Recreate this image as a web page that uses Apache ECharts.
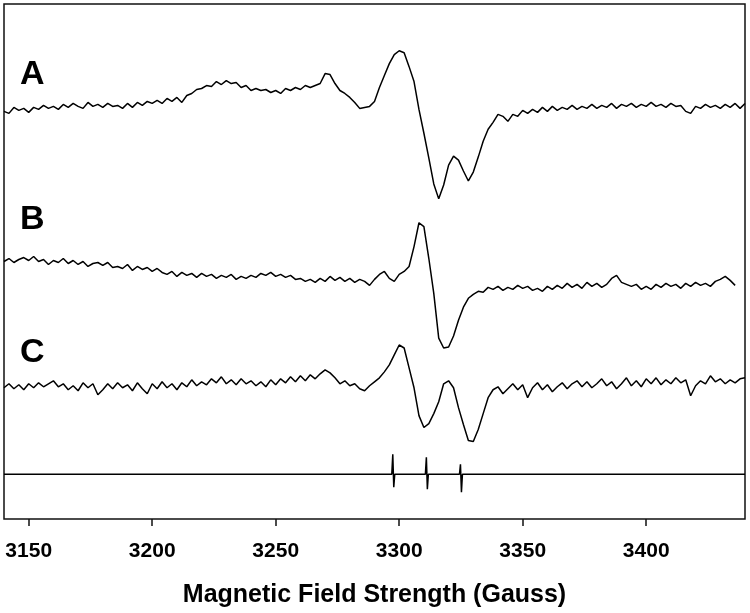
<!doctype html>
<html>
<head>
<meta charset="utf-8">
<title>EPR spectra</title>
<script src="https://cdn.jsdelivr.net/npm/echarts@6/dist/echarts.min.js"></script>
<style>
html,body{margin:0;padding:0;background:#fff;}
</style>
</head>
<body>
<div id="echarts" style="width:750px;height:613px;"></div>
<script type="text/javascript">
// field axis (Gauss), traces sampled every 2 G starting at 3140
var fieldStart = 3140;
var fieldStep = 2;
var tickValues = [3150, 3200, 3250, 3300, 3350, 3400];
var traceNames = ['A', 'B', 'C'];

var traceA = [
	-2,-4,2,-1,1,-3,2,0,4,1,
	3,0,5,2,6,3,1,7,3,5,
	2,6,3,4,1,6,2,7,4,8,
	6,9,6,11,8,12,7,14,16,20,
	21,24,23,28,25,29,26,27,22,24,
	19,21,19,20,17,19,16,21,19,22,
	20,24,22,24,26,36,35,26,19,16,
	12,7,1,2,3,8,22,34,46,55,
	59,57,43,28,0,-24,-49,-75,-90,-76,
	-56,-47,-51,-62,-72,-63,-48,-32,-20,-13,
	-5,-7,-12,-5,-7,-1,-4,0,-3,2,
	-2,3,-1,2,0,4,0,3,1,5,
	1,4,2,6,1,5,3,6,2,5,
	3,7,3,5,2,6,3,4,-2,-4,
	3,1,5,2,4,1,5,2,6,1,
	6
];
var traceB = [
	-3,0,-4,-1,1,-2,2,-3,-1,-6,
	-2,-4,0,-5,-2,-6,-3,-8,-5,-4,
	-7,-4,-9,-8,-10,-6,-12,-8,-11,-9,
	-13,-10,-14,-16,-13,-18,-14,-17,-15,-19,
	-15,-18,-16,-20,-17,-19,-16,-21,-18,-20,
	-17,-19,-15,-17,-14,-18,-16,-19,-17,-21,
	-20,-23,-21,-24,-20,-23,-18,-22,-19,-23,
	-20,-24,-21,-23,-27,-21,-16,-13,-20,-23,
	-16,-13,-8,12,36,32,0,-35,-80,-90,
	-89,-78,-62,-49,-40,-36,-33,-34,-29,-31,
	-28,-32,-29,-31,-27,-30,-28,-32,-30,-33,
	-28,-31,-27,-30,-25,-29,-26,-30,-24,-28,
	-25,-29,-26,-20,-17,-24,-26,-28,-26,-31,
	-28,-31,-26,-29,-25,-28,-26,-30,-25,-28,
	-24,-27,-25,-28,-23,-21,-18,-22,-27
];
var traceC = [
	-2,2,-3,1,-4,2,-2,3,-1,2,
	5,-1,2,-4,0,-5,3,-2,2,-9,
	-4,2,-3,3,-2,1,-5,3,-3,-8,
	2,-3,4,-2,2,-4,3,-1,6,0,
	4,1,7,3,9,2,6,1,7,2,
	5,0,4,-1,6,1,7,3,9,4,
	10,5,11,7,12,16,13,8,2,5,
	0,2,-3,-5,0,4,8,14,21,31,
	41,38,18,-2,-30,-42,-38,-28,-16,2,
	5,-2,-22,-39,-55,-56,-44,-28,-12,-4,
	-1,-8,-3,2,-4,1,-12,-2,3,-4,
	1,-6,-1,3,-3,2,5,-1,4,-2,
	2,7,0,4,-3,2,8,0,5,-1,
	7,2,8,1,6,2,8,3,6,-10,
	0,5,2,10,4,7,2,6,3,7,
	8
];
// field marker standard (three sharp lines)
var refField = [3140, 3297.0, 3297.4, 3297.8, 3298.2, 3310.6, 3311.0, 3311.4, 3311.8, 3324.4, 3324.8, 3325.2, 3325.6, 3440];
var refSignal = [0, 0, 20, -13, 0, 0, 17, -15, 0, 0, 10, -18, 0, 0];

// vertical stacking of the traces
var offsets = [412, 262, 134];
var refOffset = 45;
var boldFont = '"Liberation Sans", Arial, sans-serif';

function toPoints(vals, off) {
	var pts = [];
	for (var i = 0; i < vals.length; i++) {
		pts.push([fieldStart + i * fieldStep, vals[i] + off]);
	}
	return pts;
}

var mychart = echarts.init(document.getElementById('echarts'));
var lineStyle = {color: '#000', width: 1.5};
var series = [traceA, traceB, traceC].map(function(t, i) {
	return {
		name: traceNames[i],
		type: 'line',
		data: toPoints(t, offsets[i]),
		showSymbol: false,
		lineStyle: lineStyle,
		silent: true
	};
});
var refPts = [];
for (var k = 0; k < refField.length; k++) refPts.push([refField[k], refSignal[k] + refOffset]);
series.push({
	name: 'ref',
	type: 'line',
	data: refPts,
	showSymbol: false,
	lineStyle: {color: '#000', width: 1.5},
	silent: true
});

var labelY = [75, 220, 353];
mychart.setOption({
	animation: false,
	grid: {
		left: 4, top: 4, right: 5, bottom: 91,
		show: true,
		borderColor: '#111',
		borderWidth: 1.5
	},
	xAxis: {
		type: 'value',
		min: 3140,
		max: 3440,
		name: 'Magnetic Field Strength (Gauss)',
		nameLocation: 'middle',
		nameGap: 64,
		nameTextStyle: {
			fontFamily: boldFont,
			fontWeight: 'bold',
			fontSize: 25,
			color: '#000'
		},
		axisLine: {show: false},
		axisTick: {
			show: true,
			length: 7,
			customValues: tickValues,
			lineStyle: {color: '#111', width: 1.5}
		},
		axisLabel: {
			customValues: tickValues,
			margin: 22,
			formatter: function(v) { return String(v); },
			fontFamily: boldFont,
			fontWeight: 'bold',
			fontSize: 21,
			color: '#000'
		},
		splitLine: {show: false}
	},
	yAxis: {
		type: 'value',
		min: 0,
		max: 518,
		show: false,
		splitLine: {show: false}
	},
	graphic: traceNames.map(function(n, i) {
		return {
			type: 'text',
			left: 20,
			top: labelY[i] - 17,
			style: {
				text: n,
				font: 'bold 34px ' + boldFont,
				fill: '#000'
			}
		};
	}),
	series: series
});
</script>
</body>
</html>
